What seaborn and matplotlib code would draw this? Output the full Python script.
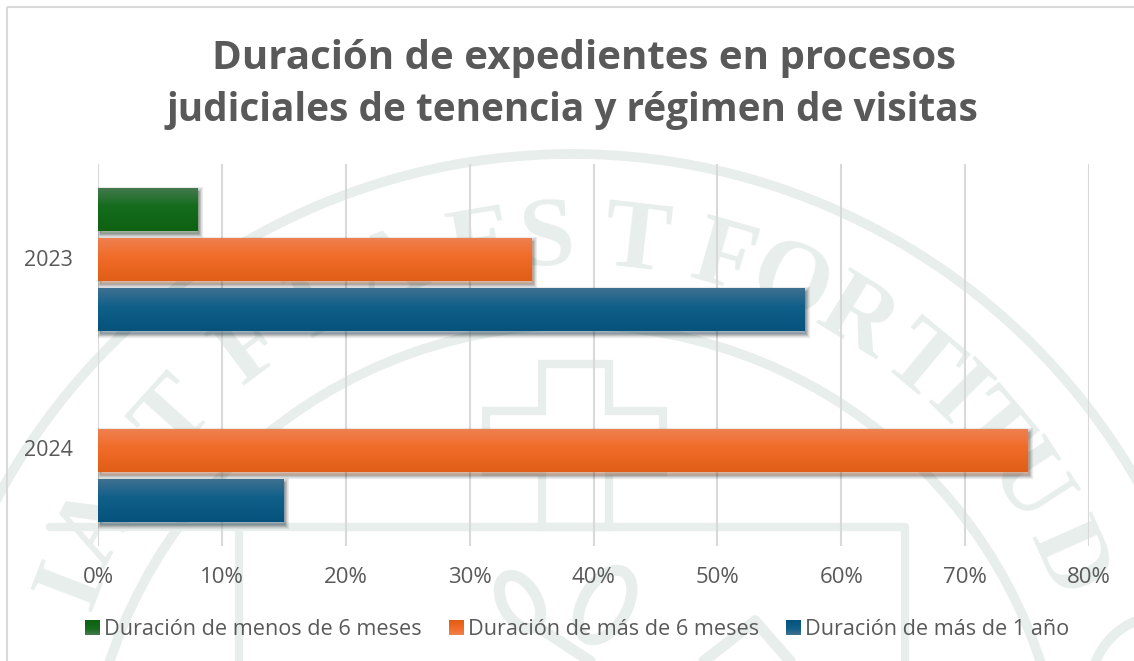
import numpy as np
import pandas as pd
import seaborn as sns
import matplotlib.pyplot as plt
import matplotlib.patheffects as pe
from matplotlib.colors import LinearSegmentedColormap
from matplotlib.patches import Circle, Ellipse, Polygon, Rectangle
from matplotlib.ticker import PercentFormatter
from matplotlib.transforms import ScaledTranslation

# Data
years = ['2023', '2024']
series_names = ['Duración de menos de 6 meses', 'Duración de más de 6 meses', 'Duración de más de 1 año']
menos_6_meses = [8, np.nan]
mas_6_meses = [35, 75]
mas_1_ano = [57, 15]
x_ticks = [0, 10, 20, 30, 40, 50, 60, 70, 80]
title_line_1 = 'Duración de expedientes en procesos'
title_line_2 = 'judiciales de tenencia y régimen de visitas'

# Bar colours: top, upper middle and bottom of each gradient
gradients = {
    series_names[0]: ['#43794c', '#146c1d', '#0e6212'],
    series_names[1]: ['#ee8050', '#f16c29', '#e05e16'],
    series_names[2]: ['#3e7090', '#11608a', '#05537d'],
}
base_colors = {name: stops[1] for name, stops in gradients.items()}

TEXT_COLOR = '#595959'
GRID_COLOR = '#d9d9d9'
SEAL_COLOR = '#e8eeeb'
W, H = 1134, 661

sns.set_theme(style='white')
plt.rcParams['font.family'] = ['Open Sans', 'DejaVu Sans']

df = pd.DataFrame({
    'year': years * 3,
    'serie': np.repeat(series_names, len(years)),
    'value': menos_6_meses + mas_6_meses + mas_1_ano,
})


def gradient_cmap(name):
    return LinearSegmentedColormap.from_list(name, list(zip([0, 0.42, 1], gradients[name])))


fig = plt.figure(figsize=(W / 100, H / 100), dpi=100, facecolor='white')

# Faint seal behind the chart, drawn in pixel coordinates
bg = fig.add_axes([0, 0, 1, 1], zorder=0)
bg.set_xlim(0, W)
bg.set_ylim(H, 0)
bg.axis('off')
cx, cy = 575, 778
bg.add_patch(Circle((572, 806), 652, fill=False, ec=SEAL_COLOR, lw=7))
bg.add_patch(Circle((575, 815), 490, fill=False, ec=SEAL_COLOR, lw=7))
bg.add_patch(Circle((1165, 690), 75, fill=False, ec=SEAL_COLOR, lw=7))
seal_letters = [('I', -69), ('A', -62), ('T', -48), ('F', -37), ('I', -29), ('A', -20),
                ('E', -10), ('S', -3), ('T', 6.5), ('F', 16), ('O', 23.5), ('R', 31.5), ('T', 39.8),
                ('I', 45), ('T', 50), ('U', 57), ('D', 66)]
for letter, ang in seal_letters:
    a = np.radians(ang)
    bg.text(cx + 538 * np.sin(a), cy - 538 * np.cos(a), letter, rotation=-ang, ha='center', va='center',
            fontsize=72, color=SEAL_COLOR, family='Liberation Serif', fontweight='bold')
cross = [(542, 364), (609, 364), (609, 411), (663, 411), (663, 472), (609, 472), (609, 527),
         (542, 527), (542, 472), (486, 472), (486, 411), (542, 411)]
bg.add_patch(Polygon(cross, closed=True, fill=False, ec=SEAL_COLOR, lw=6))
bg.plot([50, 905, 905], [527, 527, 661], color=SEAL_COLOR, lw=6)
bg.plot([239, 239], [527, 661], color=SEAL_COLOR, lw=6)
bg.add_patch(Ellipse((520, 602), 34, 58, angle=-30, fill=False, ec=SEAL_COLOR, lw=8))
bg.add_patch(Ellipse((605, 605), 44, 76, angle=30, fill=False, ec=SEAL_COLOR, lw=8))
bg.plot([535, 590], [625, 661], color=SEAL_COLOR, lw=8)
bg.plot([755, 704], [621, 661], color=SEAL_COLOR, lw=8)
bg.plot([755, 790], [621, 661], color=SEAL_COLOR, lw=8)
bg.add_patch(Rectangle((7, 7), W + 20, H + 20, fill=False, ec=GRID_COLOR, lw=1.5))

# Main chart
ax = fig.add_axes([98 / W, 1 - 546 / H, (1089 - 98) / W, 382 / H], zorder=1)
ax.patch.set_alpha(0)
sns.barplot(data=df, y='year', x='value', hue='serie', order=years, hue_order=series_names,
            palette=base_colors, orient='h', width=0.785, gap=0.14, dodge=True, legend=False,
            linewidth=0, ax=ax)

ax.set_xlim(0, 80)
ylim = ax.get_ylim()
ax.set_xticks(x_ticks)
ax.xaxis.set_major_formatter(PercentFormatter(decimals=0))
ax.set_xlabel('')
ax.set_ylabel('')
ax.grid(True, axis='x', color=GRID_COLOR, lw=1.5)
ax.set_axisbelow(True)
sns.despine(ax=ax, left=True, bottom=True)
ax.tick_params(axis='x', length=0, pad=15, labelsize=16, labelcolor=TEXT_COLOR)
ax.tick_params(axis='y', length=0, pad=18, labelsize=15.5, labelcolor=TEXT_COLOR)
for lbl in ax.get_yticklabels():
    lbl.set_transform(lbl.get_transform() + ScaledTranslation(0, 2 / 100, fig.dpi_scale_trans))

# Gradient and soft shadow on each bar
shadow = [pe.Stroke(offset=(1.2, -2.2), linewidth=lw, foreground='black', alpha=0.07) for lw in (6, 4.5, 3, 1.8, 0.6)]
for container, name in zip(ax.containers, series_names):
    cmap = gradient_cmap(name)
    for bar in container:
        w = bar.get_width()
        if not np.isfinite(w) or w <= 0:
            continue
        bar.set_path_effects(shadow + [pe.Normal()])
        y0, h = bar.get_y(), bar.get_height()
        ax.imshow(np.linspace(0, 1, 64).reshape(-1, 1), cmap=cmap, aspect='auto',
                  extent=(0, w, y0 + h, y0), origin='upper', zorder=bar.get_zorder() + 0.1)
ax.set_xlim(0, 80)
ax.set_ylim(ylim)
ax.set_aspect('auto')

fig.text(583.5 / W, 1 - 58 / H, title_line_1, ha='center', va='center', fontsize=29, fontweight='bold',
         color=TEXT_COLOR)
fig.text(572 / W, 1 - 111 / H, title_line_2, ha='center', va='center', fontsize=27.9, fontweight='bold',
         color=TEXT_COLOR)

handles = [Rectangle((0, 0), 1, 1, facecolor=gradients[n][1], linewidth=0) for n in series_names]
leg = fig.legend(handles, series_names, loc='center', bbox_to_anchor=(577 / W, 1 - 629.5 / H), ncol=3,
                 frameon=False, fontsize=15.6, labelcolor=TEXT_COLOR, handlelength=0.65, handleheight=0.65,
                 handletextpad=0.23, columnspacing=1.25)

# Same gradient on the legend swatches, placed where the legend put them
top = fig.add_axes([0, 0, 1, 1], zorder=10)
top.patch.set_alpha(0)
top.axis('off')
fig.canvas.draw()
for handle, name in zip(leg.legend_handles, series_names):
    box = handle.get_window_extent()
    top.imshow(np.linspace(0, 1, 16).reshape(-1, 1), cmap=gradient_cmap(name), aspect='auto',
               extent=(box.x0, box.x1, H - box.y1, H - box.y0), origin='upper')
top.set_xlim(0, W)
top.set_ylim(H, 0)
top.set_aspect('auto')

fig.savefig('out.png', dpi=100)
plt.close(fig)
